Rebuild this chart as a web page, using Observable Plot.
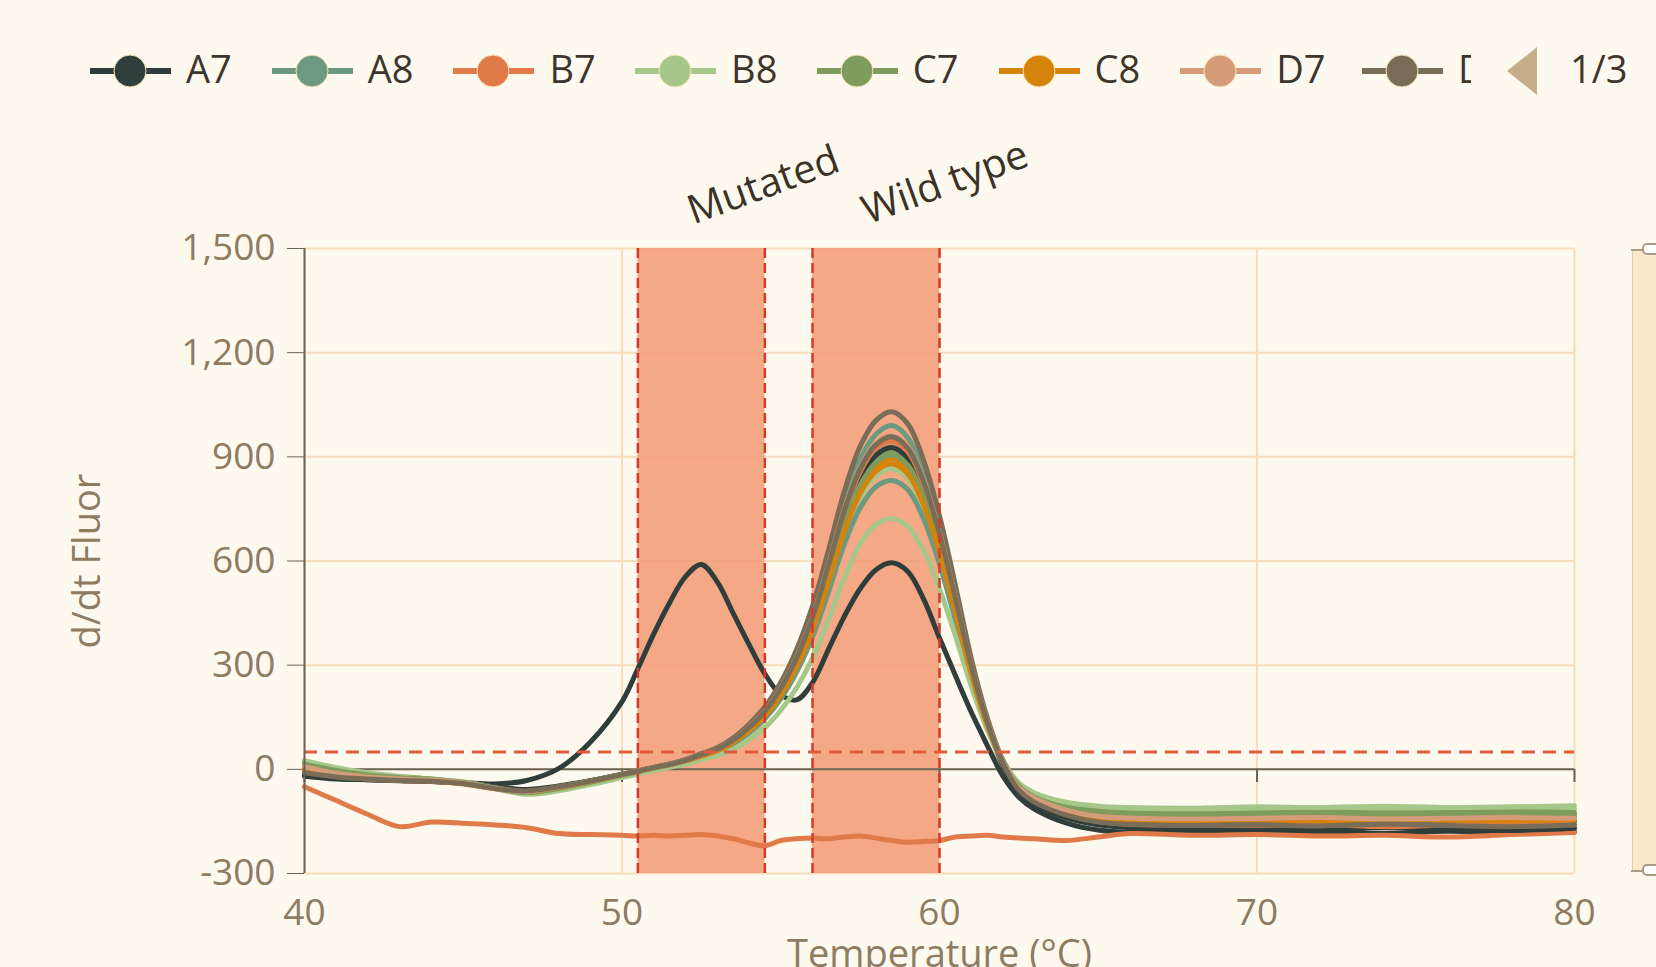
<!DOCTYPE html>
<html>
<head>
<meta charset="utf-8">
<script src="https://cdn.jsdelivr.net/npm/d3@7"></script>
<script src="https://cdn.jsdelivr.net/npm/@observablehq/plot@0.6"></script>
<style>
  html, body { margin: 0; padding: 0; background: #fef9ef; }
  #wrap { position: relative; width: 1656px; height: 967px; overflow: hidden; font-family: "Open Sans", sans-serif; background: #fef9ef; }
  #legend { position: relative; width: 1656px; height: 130px; }
  #legend-inner { position: absolute; left: 0; top: 0; width: 1471px; height: 130px; overflow: hidden; }
  .item { position: absolute; top: 0; height: 130px; width: 200px; }
  .item svg { position: absolute; left: 0; top: 51px; }
  .item .lab { position: absolute; left: 96px; top: 39px; font-size: 38px; line-height: 58px; color: #3d362c; white-space: nowrap; }
  #pager-tri { position: absolute; left: 1507px; top: 47px; }
  #pager-txt { position: absolute; left: 1570px; top: 39px; font-size: 38px; line-height: 58px; color: #3d362c; }
  #chart { position: relative; }
  #slider { position: absolute; left: 1632px; top: 250px; width: 40px; height: 621px; background: #fde8c9; border: 1px solid #e2cdaa; box-sizing: border-box; }
  .handle { position: absolute; left: 1642px; width: 30px; height: 12px; background: #ffffff; border: 2px solid #a99c87; border-radius: 5px; box-sizing: border-box; }
  .hline { position: absolute; left: 1631px; width: 12px; height: 2px; background: #a99c87; }
</style>
</head>
<body>
<div id="wrap">
  <div id="legend">
    <div id="legend-inner"></div>
    <svg id="pager-tri" width="30" height="48"><polygon points="30,0 0,24 30,48" fill="#c4ad88"></polygon></svg>
    <div id="pager-txt">1/3</div>
  </div>
  <div id="chart"></div>
  <div id="slider"></div>
  <div class="hline" style="top:249px"></div>
  <div class="handle" style="top:243px"></div>
  <div class="hline" style="top:870px"></div>
  <div class="handle" style="top:864px"></div>
</div>
<script>
// ---------- data ----------
const temps = [40,41,42,43,44,45,46,47,48,49,50,50.5,51,51.5,52,52.5,53,53.5,54,54.5,55,55.5,56,56.5,57,57.5,58,58.5,59,59.5,60,60.5,61,61.5,62,62.5,63,64,65,66,68,70,72,74,76,78,80];

const A7 = [-20,-28,-30,-32,-35,-38,-42,-32,2,78,195, 290,390,480,555,590,540,450,360,275,215,200,250,345,440,520,575,595,570,490,378,270,165,70,-20,-80,-115, -155,-175,-182,-178,-182,-180,-185,-178,-182,-180];
const A8 = [15,-5,-18,-25,-30,-38,-52,-62,-50,-33,-14, -4,6,16,28,44,60,86,125,173,240,331,451,605,768,893,965,990,955,854,701,509,307,144,22,-50,-82, -115,-132,-138,-142,-140,-138,-142,-140,-136,-138];
const B7 = [-50,-90,-130,-165,-152,-155,-160,-168,-185,-188,-190, -192,-190,-192,-190,-188,-192,-200,-212,-220,-205,-200,-198,-200,-195,-192,-198,-205,-210,-208,-205,-195,-192,-190,-195,-198,-200, -205,-195,-185,-190,-188,-192,-190,-195,-188,-182];
const B8 = [25,5,-10,-20,-28,-36,-52,-68,-58,-40,-20, -10,0,10,20,35,48,70,102,145,205,285,390,525,665,780,845,866,838,750,615,450,275,130,25,-40,-70, -98,-112,-118,-120,-118,-115,-118,-112,-115,-114];
const C7 = [20,0,-15,-22,-28,-38,-55,-70,-58,-38,-18, -8,3,13,25,40,55,80,115,160,222,307,418,560,712,828,895,918,886,792,650,472,285,135,25,-45,-75, -105,-120,-126,-128,-126,-122,-126,-124,-122,-124];
const C8 = [0,-18,-26,-30,-33,-40,-54,-63,-50,-34,-16, -6,4,13,24,39,54,78,113,157,218,300,409,548,696,809,874,895,866,774,635,461,278,128,15,-58,-92, -125,-142,-148,-150,-152,-148,-152,-150,-148,-150];
const D7 = [5,-12,-22,-28,-31,-39,-54,-64,-51,-34,-15, -5,5,14,26,41,57,82,119,165,229,316,430,576,732,851,920,942,910,814,668,485,293,137,20,-55,-88, -122,-140,-145,-148,-146,-144,-148,-146,-144,-146];
const D8 = [0,-15,-25,-30,-32,-40,-55,-65,-52,-35,-15, -5,5,15,28,45,62,90,130,180,250,345,470,630,800,930,1005,1030,995,890,730,530,320,150,25,-50,-85, -120,-140,-148,-152,-155,-150,-155,-150,-152,-150];
const E7 = [-15,-25,-30,-33,-35,-40,-50,-58,-48,-33,-15, -5,5,14,25,40,56,81,117,162,225,310,423,567,720,837,905,927,896,801,657,477,288,130,10,-65,-100, -140,-160,-168,-172,-170,-175,-168,-172,-176,-170];
const E8 = [10,-8,-20,-26,-30,-38,-53,-64,-52,-35,-16, -7,3,12,22,36,50,73,105,146,203,280,381,510,648,753,814,832,806,721,591,429,259,120,18,-48,-80, -112,-128,-134,-136,-134,-138,-134,-132,-136,-134];
const F7 = [-5,-20,-28,-32,-34,-42,-56,-66,-53,-36,-16, -6,4,14,26,41,57,83,120,166,230,317,432,580,736,856,925,945,915,819,672,488,294,138,20,-57,-92, -130,-150,-158,-160,-162,-158,-165,-160,-156,-160];
const F8 = [22,3,-12,-22,-29,-38,-56,-72,-62,-44,-24, -14,-4,6,16,28,40,58,85,120,170,235,320,430,550,650,705,722,700,630,520,385,240,115,20,-40,-68, -95,-106,-110,-112,-108,-110,-106,-110,-108,-105];
const G7 = [15,-3,-16,-24,-29,-38,-54,-67,-55,-37,-17, -7,4,13,25,40,55,79,114,158,220,304,414,554,704,818,884,905,876,783,642,466,282,132,22,-48,-80, -110,-125,-130,-133,-131,-128,-132,-129,-127,-130];
const G8 = [0,-16,-25,-30,-33,-40,-55,-64,-52,-35,-16, -6,4,13,24,38,53,77,111,154,214,295,402,539,684,795,859,880,851,761,624,453,274,128,18,-52,-86, -122,-140,-145,-147,-145,-149,-144,-146,-148,-145];
const H7 = [8,-12,-22,-28,-31,-39,-54,-64,-51,-34,-15, -5,5,14,26,42,58,84,122,168,234,323,439,589,748,870,940,961,930,832,683,496,299,140,22,-52,-84, -118,-135,-140,-143,-141,-139,-143,-141,-139,-141];
const H8 = [-10,-22,-28,-32,-34,-41,-55,-62,-50,-34,-15, -5,5,14,26,42,58,84,121,167,233,321,437,586,744,865,935,958,925,828,679,493,298,138,18,-60,-95, -132,-152,-158,-162,-160,-163,-158,-162,-165,-160];

const seriesNames = ["A7","A8","B7","B8","C7","C8","D7","D8","E7","E8","F7","F8","G7","G8","H7","H8"];
const seriesValues = [A7,A8,B7,B8,C7,C8,D7,D8,E7,E8,F7,F8,G7,G8,H7,H8];
const palette = ["#2f3e3b","#6b9a80","#e07a48","#a5c88a","#7d9c5e","#d5830a","#d49c78","#7a6d58"];
const seriesColors = seriesNames.map((d, i) => palette[i % palette.length]);

const bandNames = ["Mutated", "Wild type"];
const bandStart = [50.5, 56];
const bandEnd = [54.5, 60];
const threshold = [50];

const xTicks = [40, 50, 60, 70, 80];
const yTicks = [-300, 0, 300, 600, 900, 1200, 1500];
const xDomain = [40, 80];
const yDomain = [-300, 1500];
const legendNames = seriesNames.slice(0, 8);
const pageLabel = "1/3";

// ---------- legend ----------
const legendInner = document.getElementById("legend-inner");
legendNames.forEach((name, i) => {
  const color = seriesColors[i];
  const item = document.createElement("div");
  item.className = "item";
  item.style.left = (90 + i * 181.7) + "px";
  item.innerHTML = `<svg width="82" height="40"><line x1="0" y1="20" x2="81" y2="20" stroke="${color}" stroke-width="6"/><circle cx="40" cy="20" r="16" fill="${color}" stroke="#f7e4b8" stroke-width="1"/></svg><div class="lab">${name}</div>`;
  legendInner.appendChild(item);
});
document.getElementById("pager-txt").textContent = pageLabel;

// ---------- chart ----------
const table = [];
seriesNames.forEach((name, i) => seriesValues[i].forEach((v, j) => table.push({series: name, t: temps[j], v})));
const bandIdx = bandNames.map((d, i) => i);
const bandEdges = bandStart.concat(bandEnd);

const axisColor = "#6b6355";
const labelColor = "#8d7c62";
const fmt = d3.format(",");
const yFormat = d => fmt(d).replace("\u2212", "-");

const chart = Plot.plot({
  width: 1656,
  height: 837,
  marginTop: 118,
  marginBottom: 94,
  marginLeft: 304,
  marginRight: 82,
  style: {background: "#fef9ef", fontFamily: "'Open Sans', sans-serif", fontSize: "37px"},
  x: {domain: xDomain},
  y: {domain: yDomain},
  color: {domain: seriesNames, range: seriesColors},
  marks: [
    Plot.gridX({ticks: xTicks, stroke: "#f6ddbb", strokeOpacity: 1, strokeWidth: 2}),
    Plot.gridY({ticks: yTicks, stroke: "#f6ddbb", strokeOpacity: 1, strokeWidth: 2}),
    Plot.rect(bandIdx, {x1: i => bandStart[i], x2: i => bandEnd[i], y1: yDomain[0], y2: yDomain[1], fill: "#f39f7a", fillOpacity: 0.9}),
    Plot.ruleY([0], {stroke: axisColor, strokeWidth: 2}),
    Plot.ruleX(xTicks, {y1: 0, y2: -38, stroke: axisColor, strokeWidth: 2}),
    Plot.line(table, {x: "t", y: "v", z: "series", stroke: "series", strokeWidth: 5, curve: "catmull-rom"}),
    Plot.ruleX(bandEdges, {stroke: "#d43a2a", strokeWidth: 2.5, strokeDasharray: "10,5"}),
    Plot.ruleY(threshold, {stroke: "#e05a3c", strokeWidth: 3, strokeDasharray: "13,8"}),
    Plot.ruleX([xDomain[0]], {stroke: axisColor, strokeWidth: 2}),
    Plot.axisY({ticks: yTicks, tickFormat: yFormat, tickSize: 17, tickPadding: 12, stroke: axisColor, fill: labelColor, label: null}),
    Plot.axisX({ticks: xTicks, tickSize: 0, tickPadding: 25, fill: labelColor, label: null}),
    Plot.text(bandIdx, {x: i => (bandStart[i] + bandEnd[i]) / 2, frameAnchor: "top", dy: -24, dx: -8, text: i => bandNames[i], rotate: -20, textAnchor: "start", lineAnchor: "bottom", fontSize: 40, fill: "#3a3226"}),
    Plot.text(["d/dt Fluor"], {frameAnchor: "left", dx: -217, rotate: -90, text: d => d, textAnchor: "middle", lineAnchor: "middle", fontSize: 38, fill: labelColor}),
    Plot.text(["Temperature (°C)"], {frameAnchor: "bottom", dy: 81, text: d => d, textAnchor: "middle", lineAnchor: "middle", fontSize: 38, fill: labelColor})
  ]
});
document.getElementById("chart").appendChild(chart);
</script>
</body>
</html>
